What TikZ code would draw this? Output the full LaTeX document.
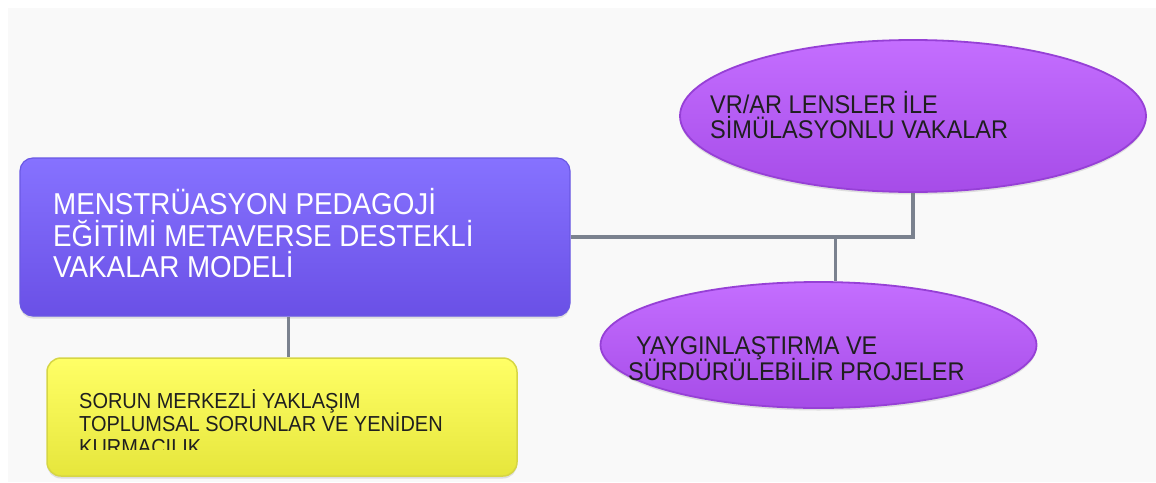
\documentclass[tikz,border=0pt]{standalone}
\usepackage{fontspec}
\setmainfont[FakeStretch=0.92]{Liberation Sans}
\usetikzlibrary{shapes.geometric,shadows}
\definecolor{bgcol}{HTML}{F9F9F9}
\definecolor{maintop}{HTML}{8672FF}
\definecolor{mainbot}{HTML}{6A50E6}
\definecolor{mainline}{HTML}{6A58E4}
\definecolor{elltop}{HTML}{C46EFF}
\definecolor{ellbot}{HTML}{A64CE8}
\definecolor{ellline}{HTML}{9640D6}
\definecolor{yeltop}{HTML}{FFFF66}
\definecolor{yelbot}{HTML}{E6E63C}
\definecolor{yelline}{HTML}{D6D644}
\definecolor{conncol}{HTML}{7B828F}
\pgfdeclarelayer{bg}
\pgfsetlayers{bg,main}
\tikzset{
  shadowed/.style={drop shadow={opacity=0.22,shadow xshift=0pt,shadow yshift=-2.5pt}},
  mainbox/.style={draw=mainline,line width=1.2pt,rounded corners=13pt,top color=maintop,bottom color=mainbot,
    minimum width=550pt,minimum height=158pt,inner sep=0pt,shadowed},
  yelbox/.style={draw=yelline,line width=1.5pt,rounded corners=14pt,top color=yeltop,bottom color=yelbot,
    minimum width=470pt,minimum height=118pt,inner sep=0pt,shadowed},
  ellbox/.style={ellipse,draw=ellline,line width=1.8pt,top color=elltop,bottom color=ellbot,inner sep=0pt,shadowed},
  maintext/.style={anchor=base west,inner sep=0pt,text=white,font=\fontsize{30.2}{32}\selectfont},
  yeltext/.style={anchor=base west,inner sep=0pt,text=black!88,font=\fontsize{21.7}{23}\selectfont},
  elltext/.style={anchor=base west,inner sep=0pt,text=black!88,font=\fontsize{25.6}{27}\selectfont},
  conn/.style={draw=conncol,line width=3.5pt},
}
\begin{document}
\begin{tikzpicture}[x=1pt,y=-1pt]
\useasboundingbox (0,0) rectangle (1156,482);
% shapes
\node[mainbox] (main) at (295,237) {};
\node[yelbox] (yel) at (282,417) {};
\node[ellbox,minimum width=466pt,minimum height=152pt] (ell1) at (913,116) {};
\node[ellbox,minimum width=436pt,minimum height=126pt] (ell2) at (818.5,345) {};
% texts
\node[maintext] (m1) at (53,214) {MENSTRÜASYON PEDAGOJİ};
\node[maintext] (m2) at (53,246) {EĞİTİMİ METAVERSE DESTEKLİ};
\node[maintext] (m3) at (53,277) {VAKALAR MODELİ};
\begin{scope}
\clip (40,350) rectangle (520,449);
\node[yeltext] (y1) at (79,408) {SORUN MERKEZLİ YAKLAŞIM};
\node[yeltext] (y2) at (79,431) {TOPLUMSAL SORUNLAR VE YENİDEN};
\node[yeltext] (y3) at (79,454) {KURMACILIK};
\end{scope}
\node[elltext] (e1) at (710,113) {VR/AR LENSLER İLE};
\node[elltext] (e2) at (710,138) {SİMÜLASYONLU VAKALAR};
\node[elltext] (f1) at (636,354) {YAYGINLAŞTIRMA VE};
\node[elltext] (f2) at (628,380) {SÜRDÜRÜLEBİLİR PROJELER};
% connectors
\coordinate (j2) at (835,237);
\coordinate (cx) at (288,0);
\begin{pgfonlayer}{bg}
\fill[white] (0,0) rectangle (1156,482);
\fill[bgcol] (8,8) rectangle (1156,482);
\draw[conn] (main.east) -| (ell1.south);
\draw[conn,line width=3pt] (j2) -- (j2 |- ell2.north);
\draw[conn,line width=3pt] (main.south -| cx) -- (yel.north -| cx);
\end{pgfonlayer}
\end{tikzpicture}
\end{document}
